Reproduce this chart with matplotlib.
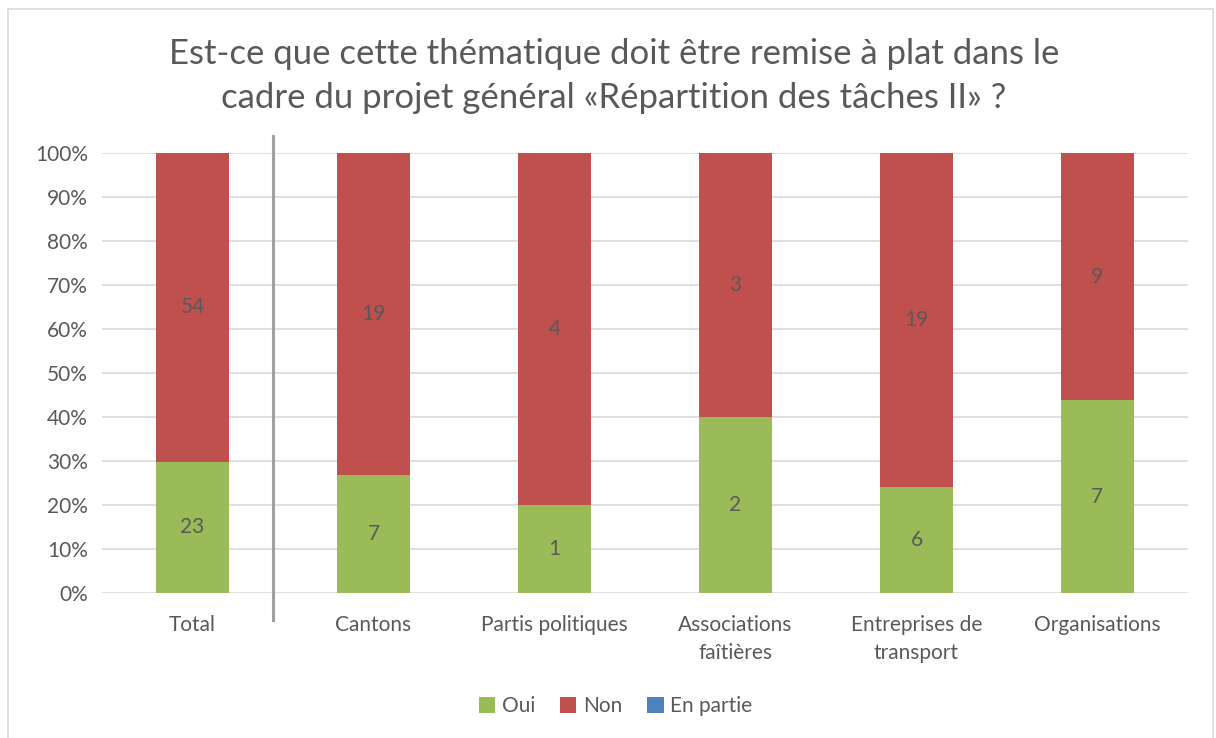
import numpy as np
import matplotlib.pyplot as plt
from matplotlib.patches import Rectangle

categories = ["Total", "Cantons", "Partis politiques", "Associations\nfaîtières",
              "Entreprises de\ntransport", "Organisations"]
oui = [23, 7, 1, 2, 6, 7]
non = [54, 19, 4, 3, 19, 9]
en_partie = [0, 0, 0, 0, 0, 0]

title = "Est-ce que cette thématique doit être remise à plat dans le\ncadre du projet général «Répartition des tâches II» ?"

plt.rcParams['font.family'] = ['Lato', 'DejaVu Sans']
grey = '#595959'
c_oui, c_non, c_part = '#9BBB59', '#C0504D', '#4F81BD'

oui_a = np.array(oui, dtype=float)
non_a = np.array(non, dtype=float)
part_a = np.array(en_partie, dtype=float)
tot = oui_a + non_a + part_a
p_oui, p_non, p_part = oui_a / tot, non_a / tot, part_a / tot

fig = plt.figure(figsize=(12.16, 7.38), dpi=100)
ax = fig.add_axes([0.0839, 0.1965, 0.893, 0.5962])

x = np.arange(len(categories))
w = 0.4
b1 = ax.bar(x, p_oui, w, color=c_oui, label='Oui', zorder=3)
b2 = ax.bar(x, p_non, w, bottom=p_oui, color=c_non, label='Non', zorder=3)
b3 = ax.bar(x, p_part, w, bottom=p_oui + p_non, color=c_part, label='En partie', zorder=3)

for i in range(len(x)):
    if oui[i]:
        ax.text(x[i], p_oui[i] / 2, str(oui[i]), ha='center', va='center', fontsize=15, color=grey, zorder=4)
    if non[i]:
        ax.text(x[i], p_oui[i] + p_non[i] / 2, str(non[i]), ha='center', va='center', fontsize=15, color=grey, zorder=4)

ax.set_xlim(-0.5, len(categories) - 0.5)
ax.set_ylim(0, 1)
ax.set_yticks(np.arange(0, 1.01, 0.1))
ax.set_yticklabels([f"{int(round(v * 100))}%" for v in np.arange(0, 1.01, 0.1)])
ax.set_xticks(x)
ax.set_xticklabels(categories, linespacing=1.5)
ax.tick_params(axis='both', length=0, labelsize=15, colors=grey)
ax.tick_params(axis='x', pad=16)
ax.tick_params(axis='y', pad=10)
ax.yaxis.grid(True, color='#D9D9D9', linewidth=1.2, zorder=0)
ax.set_axisbelow(True)
for s in ax.spines.values():
    s.set_visible(False)

# separator between Total and the groups
ax.plot([0.445, 0.445], [-0.061, 1.0386], color='#A0A0A0', linewidth=2.2, clip_on=False, zorder=5)

fig.text(0.505, 0.897, title, ha='center', va='center', fontsize=25, color=grey, linespacing=1.45)

fig.legend(handles=[b1, b2, b3], loc='center', bbox_to_anchor=(0.506, 0.043), ncol=3,
           frameon=False, fontsize=15, labelcolor=grey, handlelength=0.8, handleheight=0.8,
           handletextpad=0.3, columnspacing=1.2)

fig.patches.append(Rectangle((8 / 1216, -0.01), 1205 / 1216, 1 - 9 / 738 + 0.01, transform=fig.transFigure,
                             fill=False, edgecolor='#D9D9D9', linewidth=1.2))

fig.savefig("out.png", dpi=100, facecolor='white')
